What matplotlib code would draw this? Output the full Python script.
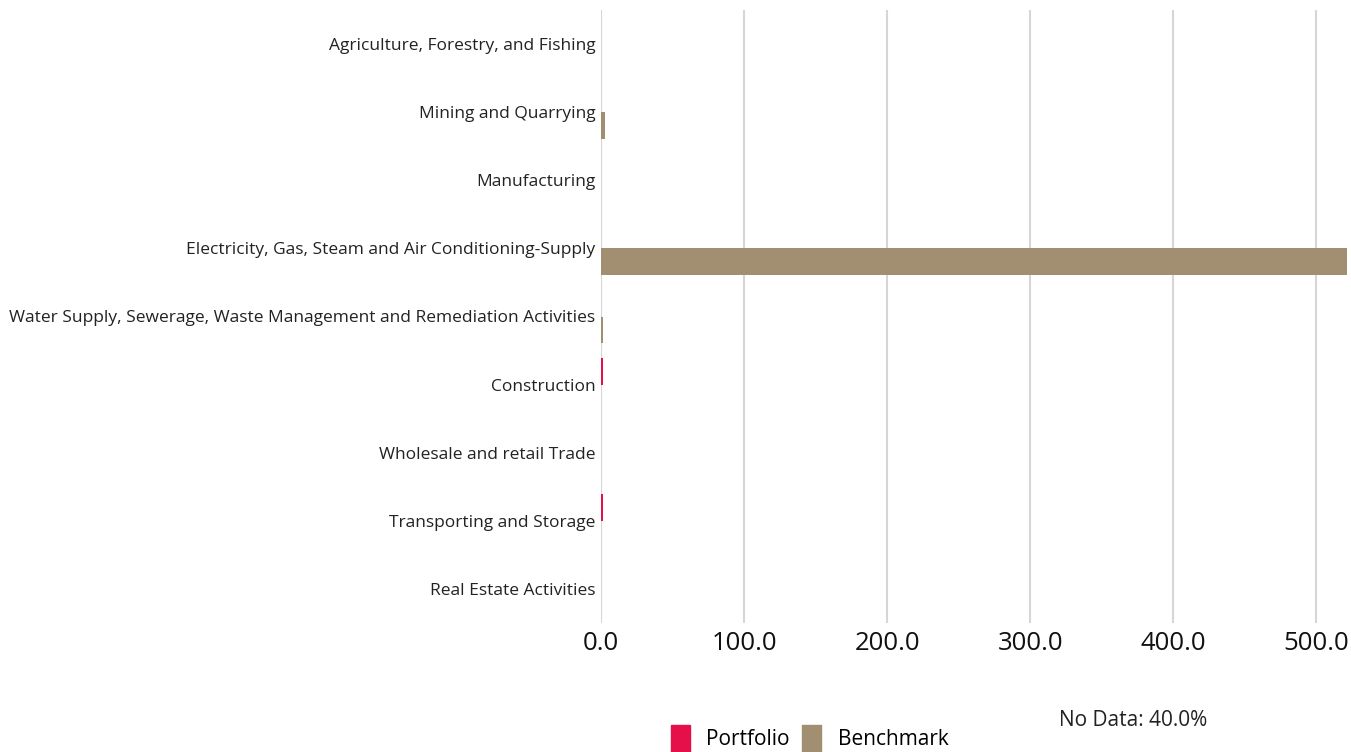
#!/usr/bin/env python
# -*- coding: utf-8 -*-

"""Sector breakdown, portfolio vs benchmark"""

from matplotlib import pyplot as plt
from matplotlib.patches import Patch
import numpy as np

plt.rcParams["font.family"] = ["Open Sans", "DejaVu Sans"]

sectors = [
	"Agriculture, Forestry, and Fishing",
	"Mining and Quarrying",
	"Manufacturing",
	"Electricity, Gas, Steam and Air Conditioning-Supply",
	"Water Supply, Sewerage, Waste Management and Remediation Activities",
	"Construction",
	"Wholesale and retail Trade",
	"Transporting and Storage",
	"Real Estate Activities",
]
portfolio = [0.0, 0.3, 0.0, 0.0, 0.0, 1.2, 0.0, 1.5, 0.0]
benchmark = [0.2, 2.8, 0.3, 521.5, 1.3, 0.3, 0.2, 0.3, 0.2]
ticks = [0, 100, 200, 300, 400, 500]

c_port = "#e5104a"
c_bench = "#a28f72"

fig = plt.figure(figsize=(13.51, 7.52), dpi=100)
ax = fig.add_axes([601 / 1351, 1 - 623 / 752, 746 / 1351, 613 / 752])

y = np.arange(len(sectors))
h = 0.39
ax.barh(y - h / 2, portfolio, height=h, color=c_port, linewidth=0, zorder=3)
ax.barh(y + h / 2, benchmark, height=h, color=c_bench, linewidth=0, zorder=3)

ax.set_ylim(len(sectors) - 0.5, -0.5)
ax.set_xlim(0, 521.5)
ax.set_yticks(y)
ax.set_yticklabels(sectors, fontsize=12.5, color="#222222")
ax.set_xticks(ticks)
ax.set_xticklabels(["%.1f" % t for t in ticks], fontsize=18.5, color="#111111")
ax.tick_params(axis="y", length=0, pad=4)
ax.tick_params(axis="x", length=0, pad=6)

for s in ax.spines.values():
	s.set_visible(False)
ax.grid(axis="x", color="#d6d6d6", linewidth=1.5, zorder=0)
ax.axvline(0, color="#e3e6ee", linewidth=1.5, zorder=1)

fig.legend(handles=[Patch(color=c_port, label="Portfolio"), Patch(color=c_bench, label="Benchmark")],
		   loc="lower left", bbox_to_anchor=(652 / 1351, -0.025), ncol=2, frameon=False,
		   fontsize=15, handlelength=0.9, handleheight=1.6, handletextpad=0.8, columnspacing=0.6)
fig.text(1059 / 1351, 1 - 721 / 752, "No Data: 40.0%", fontsize=15, color="#222222", va="center")

plt.savefig("out.png", dpi=100)
